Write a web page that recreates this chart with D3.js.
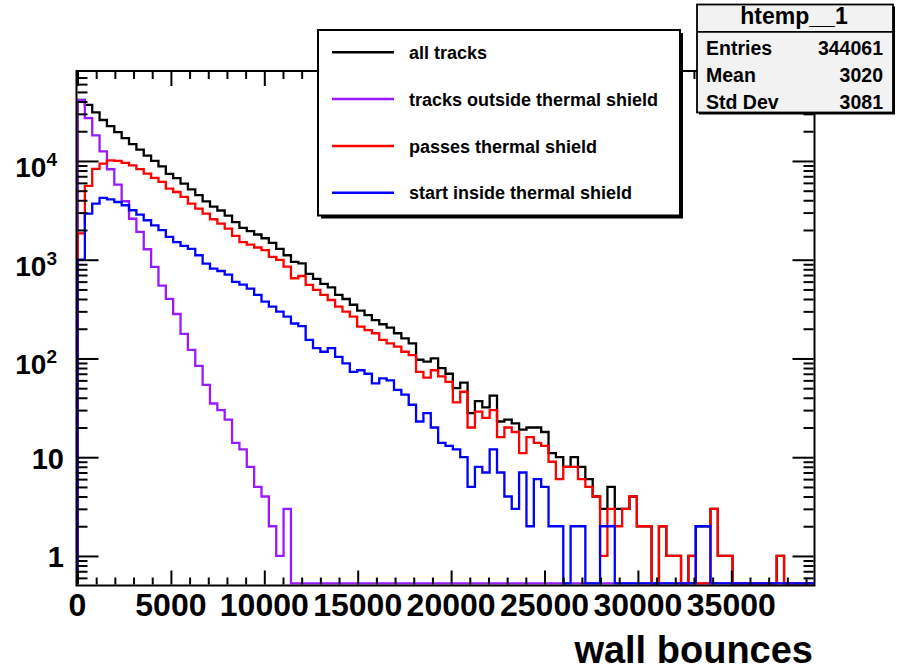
<!DOCTYPE html>
<html><head><meta charset="utf-8">
<script src="https://cdn.jsdelivr.net/npm/d3@7"></script>
<style>
body{margin:0;background:#fff}
svg{display:block}
text{font-family:"Liberation Sans",Arial,Helvetica,sans-serif;font-weight:bold;fill:#000}
</style>
</head><body>
<svg id="c" width="897" height="671"></svg>
<script>
// ---- histogram definition ----
const nBins = 100, xMin = 0, xMax = 39400;

const allTracks = [41500,37000,31000,26000,22500,19600,17000,14800,13000,11300,
 10000,8800,7400,6700,5900,5150,4500,3900,3450,3150,
 2800,2400,2100,1950,1800,1650,1480,1290,1110,950,
 920,720,640,570,525,440,400,350,305,275,
 245,222,205,180,160,142,97,93,100,80,
 70,50,57,28,37,32,42,23,24,22,
 19,20,20,18,11,10,8,10,8,6,
 4,3,5,3,3,4,2,2,0,2,
 1,1,0,1,2,2,3,1,1,0,
 0,0,0,0,0,1,0,0,0,0];

const outsideShield = [41200,27200,18200,12500,8240,5750,3910,2600,1910,1276,
 845,546,401,282,177,122,84,54,35,30,
 24,14,12,8,5,4,2,1,3,0,
 0,0,0,0,0,0,0,0,0,0,
 0,0,0,0,0,0,0,0,0,0,
 0,0,0,0,0,0,0,0,0,0,
 0,0,0,0,0,0,0,0,0,0,
 0,0,0,0,0,0,0,0,0,0,
 0,0,0,0,0,0,0,0,0,0,
 0,0,0,0,0,0,0,0,0,0];

const passesShield = [1850,5600,8300,9400,10150,10000,9550,9040,8250,7430,
 6730,6130,5240,4850,4320,3700,3290,2930,2570,2320,
 2060,1740,1510,1420,1330,1250,1070,994,851,649,
 684,555,494,440,391,335,298,265,210,194,
 180,154,142,132,117,108,73,64,76,66,
 58,36,46,20,29,25,30,16,20,18,
 11,16,14,13,9,6,8,8,6,5,
 4,1,3,2,3,4,2,2,0,2,
 1,1,0,1,0,0,3,1,1,0,
 0,0,0,0,0,1,0,0,0,0];

const insideShield = [1000,2930,3700,4220,4090,3840,3560,3170,2860,2510,
 2230,1990,1700,1510,1380,1290,1110,912,811,769,
 706,596,559,509,440,376,335,298,265,226,
 213,154,127,117,127,104,89,73,76,70,
 56,63,60,48,43,34,23,28,20,14,
 13,12,10,5,8,7,12,7,4,3,
 7,2,6,5,2,2,0,2,2,0,
 0,2,2,0,0,0,0,0,0,0,
 0,0,0,0,2,2,0,0,0,0,
 0,0,0,0,0,0,0,0,0,0];

const seriesNames = ["all tracks","tracks outside thermal shield","passes thermal shield","start inside thermal shield"];
const seriesColors = ["#000000","#9a1aff","#ff0000","#0000ff"];

const xTickValues = [0,5000,10000,15000,20000,25000,30000,35000];
const xTickLabels = ["0","5000","10000","15000","20000","25000","30000","35000"];
const yTickValues = [1,10,100,1000,10000];
const yTickExponents = ["","","2","3","4"];
const yTickBases = ["1","10","10","10","10"];
const xTitle = "wall bounces";

const statsTitle = "htemp__1";
const statsLabels = ["Entries","Mean","Std Dev"];
const statsValues = ["344061","3020","3081"];

// ---- layout ----
const L = 77.5, R = 813.5, T = 72, B = 584.5;
const svg = d3.select("#c");
const x = d3.scaleLinear().domain([xMin, xMax]).range([L, R]);
const y = d3.scaleLog().domain([0.514, 79600]).range([B, T]);
const yZero = B - 1;

svg.append("defs").append("clipPath").attr("id","pc")
  .append("rect").attr("x",L-1).attr("y",T-1).attr("width",R-L+2).attr("height",B-T+1);

// ---- histograms ----
const bw = (xMax - xMin) / nBins;
function stepPoints(vals){
  const yv = v => v > 0 ? y(v) : yZero;
  const pts = [[x(xMin), yZero]];
  vals.forEach((v,i) => { pts.push([x(xMin+i*bw), yv(v)]); pts.push([x(xMin+(i+1)*bw), yv(v)]); });
  pts.push([x(xMax), yZero]);
  return pts;
}
const series = [allTracks, outsideShield, passesShield, insideShield];
const gH = svg.append("g").attr("clip-path","url(#pc)");
series.forEach((s,k) => {
  gH.append("path").attr("d", d3.line()(stepPoints(s)))
    .attr("fill","none").attr("stroke",seriesColors[k]).attr("stroke-width",2.3)
    .attr("stroke-linejoin","miter");
});

// ---- frame & ticks ----
const minorX = d3.range(0, 39001, 1000).filter(v => v % 5000 !== 0);
function styleAxis(g){ g.select(".domain").remove(); g.selectAll("line").attr("stroke","#000").attr("stroke-width",2); g.selectAll("text").remove(); }
svg.append("g").attr("transform",`translate(0,${B})`).call(d3.axisBottom(x).tickValues(xTickValues).tickSize(-14)).call(styleAxis);
svg.append("g").attr("transform",`translate(0,${B})`).call(d3.axisBottom(x).tickValues(minorX).tickSize(-7)).call(styleAxis);
svg.append("g").attr("transform",`translate(0,${T})`).call(d3.axisTop(x).tickValues(xTickValues).tickSize(-14)).call(styleAxis);
svg.append("g").attr("transform",`translate(0,${T})`).call(d3.axisTop(x).tickValues(minorX).tickSize(-7)).call(styleAxis);

const minorY = [];
[0.1,1,10,100,1000,10000].forEach(d => { for (let m=2;m<=9;m++){ const v=d*m; if (v>0.514 && v<79600) minorY.push(v);} });
svg.append("g").attr("transform",`translate(${L},0)`).call(d3.axisLeft(y).tickValues(yTickValues).tickSize(-21)).call(styleAxis);
svg.append("g").attr("transform",`translate(${L},0)`).call(d3.axisLeft(y).tickValues(minorY).tickSize(-10)).call(styleAxis);
svg.append("g").attr("transform",`translate(${R},0)`).call(d3.axisRight(y).tickValues(yTickValues).tickSize(-21)).call(styleAxis);
svg.append("g").attr("transform",`translate(${R},0)`).call(d3.axisRight(y).tickValues(minorY).tickSize(-10)).call(styleAxis);

svg.append("rect").attr("x",L-1).attr("y",T-1).attr("width",R-L+2).attr("height",B-T+2)
  .attr("fill","none").attr("stroke","#000").attr("stroke-width",2);

// ---- tick labels ----
xTickValues.forEach((v,i) => {
  svg.append("text").attr("x",x(v)).attr("y",616).attr("text-anchor","middle")
    .attr("font-size",32).text(xTickLabels[i]);
});
yTickValues.forEach((v,i) => {
  const ty = y(v);
  if (yTickExponents[i] === "") {
    svg.append("text").attr("x",64).attr("y",ty+11.5).attr("text-anchor","end")
      .attr("font-size",29).text(yTickBases[i]);
  } else {
    const t = svg.append("text").attr("x",57).attr("y",ty+16).attr("text-anchor","end").attr("font-size",28);
    t.append("tspan").text(yTickBases[i]);
    t.append("tspan").attr("font-size",19).attr("dy",-11).text(yTickExponents[i]);
  }
});
svg.append("text").attr("x",813).attr("y",663).attr("text-anchor","end").attr("font-size",38).text(xTitle);

// ---- legend ----
const lg = svg.append("g");
lg.append("rect").attr("x",321).attr("y",33).attr("width",362).attr("height",185.5).attr("fill","#000");
lg.append("rect").attr("x",318).attr("y",30).attr("width",362).attr("height",185.5)
  .attr("fill","#fff").attr("stroke","#000").attr("stroke-width",2);
seriesNames.forEach((n,k) => {
  const ly = 52.3 + k*46.8;
  lg.append("line").attr("x1",332).attr("x2",394).attr("y1",ly).attr("y2",ly)
    .attr("stroke",seriesColors[k]).attr("stroke-width",2.5);
  lg.append("text").attr("x",409).attr("y",ly+6.7).attr("font-size",18).text(n);
});

// ---- stats box ----
const sb = svg.append("g");
sb.append("rect").attr("x",699).attr("y",6.5).attr("width",196).attr("height",108).attr("fill","#000");
sb.append("rect").attr("x",697).attr("y",4.5).attr("width",196).attr("height",108)
  .attr("fill","#f2f2f2").attr("stroke","#000").attr("stroke-width",1.8);
sb.append("line").attr("x1",697).attr("x2",893).attr("y1",31.8).attr("y2",31.8).attr("stroke","#000").attr("stroke-width",1.8);
sb.append("text").attr("x",794).attr("y",24).attr("text-anchor","middle").attr("font-size",23).text(statsTitle);
statsLabels.forEach((s,i) => {
  const by = 54.5 + i*27.2;
  sb.append("text").attr("x",706).attr("y",by).attr("font-size",19.5).text(s);
  sb.append("text").attr("x",883).attr("y",by).attr("text-anchor","end").attr("font-size",19.5).text(statsValues[i]);
});
</script>
</body></html>
